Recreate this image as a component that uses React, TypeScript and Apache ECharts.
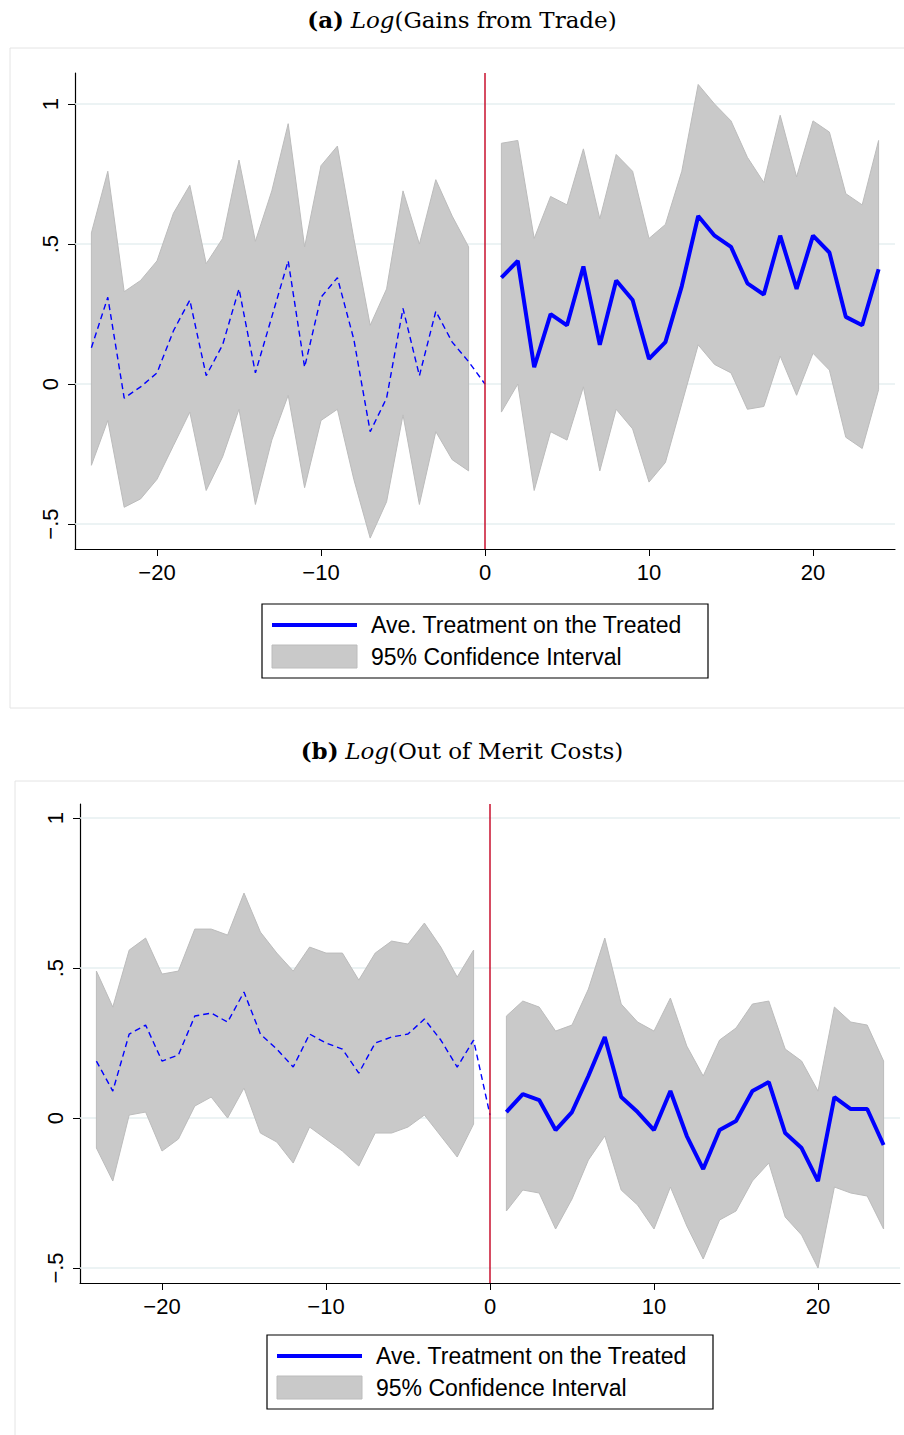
import { useRef, useEffect } from 'react';
import * as echarts from 'echarts';

const PRE_X = [-24, -23, -22, -21, -20, -19, -18, -17, -16, -15, -14, -13, -12, -11, -10, -9, -8, -7, -6, -5, -4, -3, -2, -1];
const POST_X = [1, 2, 3, 4, 5, 6, 7, 8, 9, 10, 11, 12, 13, 14, 15, 16, 17, 18, 19, 20, 21, 22, 23, 24];

// panel (a)
const A_ATT_PRE = [0.13, 0.31, -0.05, -0.01, 0.04, 0.19, 0.3, 0.03, 0.14, 0.34, 0.04, 0.24, 0.44, 0.06, 0.31, 0.38, 0.16, -0.17, -0.05, 0.27, 0.03, 0.26, 0.15, 0.08];
const A_ATT_ZERO = 0;
const A_UP_PRE = [0.54, 0.76, 0.33, 0.37, 0.44, 0.61, 0.71, 0.43, 0.52, 0.8, 0.51, 0.69, 0.93, 0.49, 0.78, 0.85, 0.52, 0.21, 0.34, 0.69, 0.5, 0.73, 0.6, 0.49];
const A_LO_PRE = [-0.29, -0.13, -0.44, -0.41, -0.34, -0.22, -0.1, -0.38, -0.26, -0.09, -0.43, -0.2, -0.04, -0.37, -0.13, -0.09, -0.34, -0.55, -0.42, -0.11, -0.43, -0.17, -0.27, -0.31];
const A_ATT_POST = [0.38, 0.44, 0.06, 0.25, 0.21, 0.42, 0.14, 0.37, 0.3, 0.09, 0.15, 0.35, 0.6, 0.53, 0.49, 0.36, 0.32, 0.53, 0.34, 0.53, 0.47, 0.24, 0.21, 0.41];
const A_UP_POST = [0.86, 0.87, 0.52, 0.67, 0.64, 0.84, 0.59, 0.82, 0.76, 0.52, 0.57, 0.76, 1.07, 1.0, 0.94, 0.81, 0.72, 0.96, 0.74, 0.94, 0.9, 0.68, 0.64, 0.87];
const A_LO_POST = [-0.1, 0.0, -0.38, -0.17, -0.2, -0.01, -0.31, -0.09, -0.16, -0.35, -0.28, -0.07, 0.14, 0.07, 0.04, -0.09, -0.08, 0.1, -0.04, 0.11, 0.05, -0.19, -0.23, -0.02];

// panel (b)
const B_ATT_PRE = [0.19, 0.09, 0.28, 0.31, 0.19, 0.21, 0.34, 0.35, 0.32, 0.42, 0.28, 0.23, 0.17, 0.28, 0.25, 0.23, 0.15, 0.25, 0.27, 0.28, 0.33, 0.26, 0.17, 0.26];
const B_ATT_ZERO = 0.01;
const B_UP_PRE = [0.49, 0.37, 0.56, 0.6, 0.48, 0.49, 0.63, 0.63, 0.61, 0.75, 0.62, 0.55, 0.49, 0.57, 0.55, 0.55, 0.46, 0.55, 0.59, 0.58, 0.65, 0.57, 0.47, 0.56];
const B_LO_PRE = [-0.1, -0.21, 0.01, 0.02, -0.11, -0.07, 0.04, 0.07, 0.0, 0.1, -0.05, -0.08, -0.15, -0.03, -0.07, -0.11, -0.16, -0.05, -0.05, -0.03, 0.01, -0.06, -0.13, -0.02];
const B_ATT_POST = [0.02, 0.08, 0.06, -0.04, 0.02, 0.14, 0.27, 0.07, 0.02, -0.04, 0.09, -0.06, -0.17, -0.04, -0.01, 0.09, 0.12, -0.05, -0.1, -0.21, 0.07, 0.03, 0.03, -0.09];
const B_UP_POST = [0.34, 0.39, 0.37, 0.29, 0.31, 0.43, 0.6, 0.38, 0.32, 0.29, 0.4, 0.24, 0.14, 0.26, 0.3, 0.38, 0.39, 0.23, 0.19, 0.09, 0.37, 0.32, 0.31, 0.19];
const B_LO_POST = [-0.31, -0.24, -0.25, -0.37, -0.27, -0.14, -0.06, -0.24, -0.29, -0.37, -0.23, -0.36, -0.47, -0.34, -0.31, -0.21, -0.15, -0.33, -0.39, -0.5, -0.23, -0.25, -0.26, -0.37];

const X_TICKS = [-20, -10, 0, 10, 20];
const Y_TICKS = [-0.5, 0, 0.5, 1];

const BAND = '#c9c9c9';
const BAND_EDGE = '#bcbcbc';
const BLUE = '#0000ff';
const RED = '#c8102e';
const GRIDLINE = '#e6eff0';

const fmtY = (v: number) => (v === 0 ? '0' : v === 1 ? '1' : v > 0 ? '.5' : '\u2212.5');
const fmtX = (v: number) => (v < 0 ? '\u2212' + Math.abs(v) : String(v));

function pairs(xs: number[], ys: number[]) {
  return xs.map((x, i) => [x, ys[i]]);
}

// confidence band as a polygon: upper edge left to right, lower edge back
function bandSeries(idx: number, xs: number[], up: number[], lo: number[]) {
  return {
    type: 'custom', xAxisIndex: idx, yAxisIndex: idx, silent: true, z: 2,
    data: [[xs[0], up[0]]],
    renderItem: (_params: any, api: any) => {
      const pts = [
        ...xs.map((x, i) => api.coord([x, up[i]])),
        ...xs.map((x, i) => api.coord([x, lo[i]])).reverse(),
      ];
      return { type: 'polygon', shape: { points: pts }, style: { fill: BAND, stroke: BAND_EDGE, lineWidth: 1 } };
    },
  };
}

function panelSeries(idx: number, attPre: number[], attZero: number, upPre: number[], loPre: number[], attPost: number[], upPost: number[], loPost: number[]) {
  const base = { type: 'line', xAxisIndex: idx, yAxisIndex: idx, symbol: 'none', silent: true };
  return [
    {
      ...base, z: 1, data: [],
      markLine: {
        symbol: 'none', silent: true, label: { show: false }, z: 1,
        data: Y_TICKS.map((v) => ({ yAxis: v, lineStyle: { color: GRIDLINE, width: 1.5, type: 'solid' } })),
      },
    },
    bandSeries(idx, PRE_X, upPre, loPre),
    bandSeries(idx, POST_X, upPost, loPost),
    {
      ...base, z: 3,
      data: [...pairs(PRE_X, attPre), [0, attZero]],
      lineStyle: { color: BLUE, width: 1.4, type: [6, 4] },
      markLine: {
        symbol: 'none', silent: true, label: { show: false },
        data: [{ xAxis: 0, lineStyle: { color: RED, width: 1.5, type: 'solid' } }],
      },
    },
    { ...base, z: 3, data: pairs(POST_X, attPost), lineStyle: { color: BLUE, width: 4 } },
  ];
}

function axes(idx: number, yMin: number, yMax: number) {
  const axisLine = { show: true, onZero: false, lineStyle: { color: '#000', width: 1.2 } };
  const label = { fontSize: 22, color: '#000', fontFamily: 'Liberation Sans, Arial, sans-serif' };
  return {
    x: {
      type: 'value', gridIndex: idx, min: -25, max: 25,
      axisLine, splitLine: { show: false },
      axisTick: { show: true, customValues: X_TICKS, length: 7, lineStyle: { color: '#000' } },
      axisLabel: { ...label, customValues: X_TICKS, formatter: fmtX, margin: 12 },
    },
    y: {
      type: 'value', gridIndex: idx, min: yMin, max: yMax,
      axisLine, splitLine: { show: false },
      axisTick: { show: true, customValues: Y_TICKS, length: 7, lineStyle: { color: '#000' } },
      axisLabel: { ...label, customValues: Y_TICKS, formatter: fmtY, rotate: 90, margin: 14 },
    },
  };
}

function legend(left: number, top: number) {
  const font = '23px "Liberation Sans", Arial, sans-serif';
  return [
    { type: 'rect', shape: { x: left, y: top, width: 446, height: 74 }, style: { fill: '#fff', stroke: '#000', lineWidth: 1.2 } },
    { type: 'line', shape: { x1: left + 10, y1: top + 21, x2: left + 95, y2: top + 21 }, style: { stroke: BLUE, lineWidth: 4 } },
    { type: 'rect', shape: { x: left + 10, y: top + 41, width: 85, height: 23 }, style: { fill: BAND, stroke: BAND_EDGE } },
    { type: 'text', x: left + 109, y: top + 9, style: { text: 'Ave. Treatment on the Treated', font, fill: '#000' } },
    { type: 'text', x: left + 109, y: top + 41, style: { text: '95% Confidence Interval', font, fill: '#000' } },
  ];
}

function title(y: number, tag: string, rest: string) {
  const fam = '"DejaVu Serif", "Liberation Serif", serif';
  return {
    type: 'text', x: 462, y,
    style: {
      text: '{b|' + tag + '}  {i|Log}{n|' + rest + '}',
      align: 'center',
      rich: {
        b: { font: 'bold 23px ' + fam, fill: '#000' },
        i: { font: 'italic 23px ' + fam, fill: '#000' },
        n: { font: '23px ' + fam, fill: '#000' },
      },
    },
  };
}

export default function App() {
  const ref = useRef<HTMLDivElement>(null);

  useEffect(() => {
    if (!ref.current) return;
    const chart = echarts.init(ref.current, null, { renderer: 'svg' });
    const a = axes(0, -0.589, 1.111);
    const b = axes(1, -0.55, 1.047);

    chart.setOption({
      animation: false,
      backgroundColor: '#fff',
      grid: [
        { left: 75, width: 820, top: 73, height: 476 },
        { left: 80, width: 820, top: 804, height: 479 },
      ],
      xAxis: [a.x, b.x],
      yAxis: [a.y, b.y],
      series: [
        ...panelSeries(0, A_ATT_PRE, A_ATT_ZERO, A_UP_PRE, A_LO_PRE, A_ATT_POST, A_UP_POST, A_LO_POST),
        ...panelSeries(1, B_ATT_PRE, B_ATT_ZERO, B_UP_PRE, B_LO_PRE, B_ATT_POST, B_UP_POST, B_LO_POST),
      ],
      graphic: [
        { type: 'rect', z: -10, shape: { x: 10, y: 48, width: 900, height: 660 }, style: { fill: 'none', stroke: '#e4e4e4' } },
        { type: 'rect', z: -10, shape: { x: 15, y: 781, width: 900, height: 660 }, style: { fill: 'none', stroke: '#e4e4e4' } },
        title(8, '(a)', '(Gains from Trade)'),
        title(739, '(b)', '(Out of Merit Costs)'),
        ...legend(262, 604),
        ...legend(267, 1335),
      ],
    });
    return () => chart.dispose();
  }, []);

  return <div ref={ref} style={{ position: 'absolute', left: 0, top: 0, width: 904, height: 1435 }} />;
}
